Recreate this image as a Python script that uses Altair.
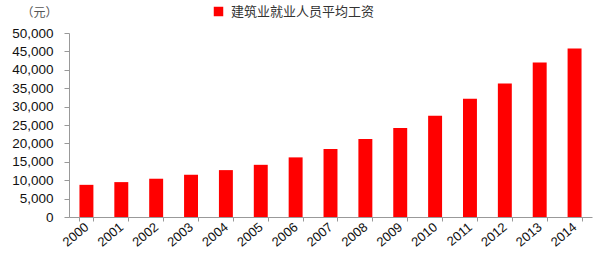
import altair as alt
import pandas as pd

years = [str(y) for y in range(2000, 2015)]
wages = [8740, 9480, 10400, 11480, 12740, 14180, 16200, 18480, 21220, 24160,
         27530, 32100, 36300, 42000, 45800]
series_name = "建筑业就业人员平均工资"

df = pd.DataFrame({"year": years, "wage": wages, "series": [series_name] * len(years)})

chart = alt.Chart(df).mark_bar(color="#FF0000").encode(
    x=alt.X("year:N", sort=years,
            scale=alt.Scale(paddingInner=0.6, paddingOuter=0.3),
            axis=alt.Axis(title=None, labelAngle=-40, labelAlign="right", labelBaseline="middle",
                          labelFont="Liberation Sans", labelFontSize=13, labelColor="#111",
                          labelPadding=4, tickBand="extent", tickSize=4, tickColor="#999",
                          domainColor="#999", labelOverlap=False)),
    y=alt.Y("wage:Q", scale=alt.Scale(domain=[0, 50000], nice=False),
            axis=alt.Axis(title="（元）", titleAngle=0, titleX=-48, titleY=-21,
                          titleAlign="left", titleBaseline="middle", titleFont="Noto Sans CJK SC",
                          titleFontSize=12, titleFontWeight="normal", titleColor="#555",
                          values=list(range(0, 50001, 5000)), format=",d",
                          labelFont="Liberation Sans", labelFontSize=13.5, labelColor="#111",
                          labelPadding=11, tickSize=5, tickColor="#999", domainColor="#999",
                          grid=False)),
    color=alt.Color("series:N", scale=alt.Scale(range=["#FF0000"]),
                    legend=alt.Legend(title=None, orient="none", legendX=143, legendY=-28,
                                      padding=0, symbolType="square", symbolSize=90,
                                      symbolStrokeWidth=0,
                                      labelFont="Noto Sans CJK SC", labelFontSize=13,
                                      labelColor="#333", labelOffset=6)),
).properties(
    width=523, height=184,
    autosize=alt.AutoSizeParams(type="none"),
    padding={"left": 69, "top": 33, "right": 8, "bottom": 37},
).configure_view(stroke=None)

chart.save("out.html", embed_options={"renderer": "svg", "actions": False})
